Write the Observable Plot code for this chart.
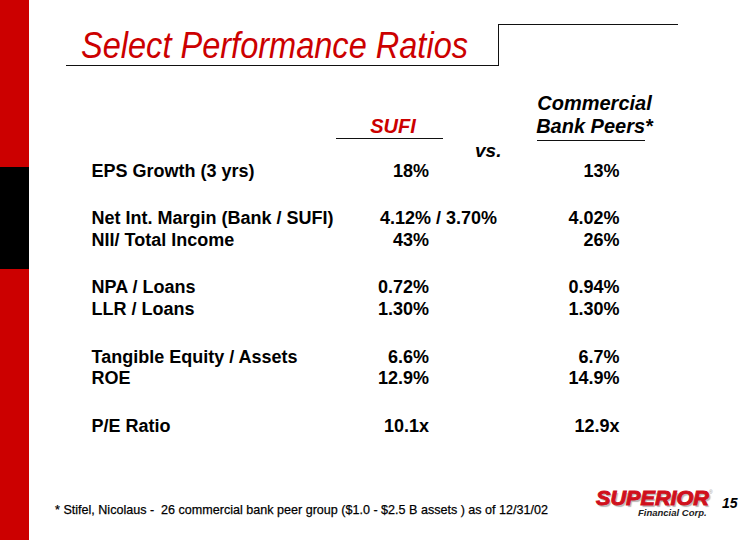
<!DOCTYPE html>
<html><head><meta charset="utf-8">
<script src="https://cdn.jsdelivr.net/npm/d3@7"></script>
<script src="https://cdn.jsdelivr.net/npm/@observablehq/plot@0.6"></script>
<style>
html,body{margin:0;padding:0;background:#fff;}
#page{position:relative;width:756px;height:540px;overflow:hidden;background:#fff;font-family:"Liberation Sans",Arial,sans-serif;}
.abs{position:absolute;white-space:pre;line-height:1;}
#bar{left:0;top:0;width:29px;height:540px;background:#cc0000;}
#band{left:0;top:167px;width:29px;height:102px;background:#000;}
#title{left:81px;top:28px;font-style:italic;font-size:36px;color:#cc0000;}
.hl{position:absolute;height:0;border-top:1.3px solid #111;}
.vl{position:absolute;width:0;border-left:1.3px solid #111;}
#vs{left:475px;top:141px;font-style:italic;font-weight:bold;font-size:19px;color:#000;}
#foot{left:55px;top:502.5px;font-size:13.5px;color:#000;-webkit-text-stroke:0.25px #000;}
#logo{left:596px;top:490px;line-height:0.8;font-style:italic;font-weight:bold;font-size:21px;color:#d0101c;text-shadow:1.5px 1.5px 1px #b8b8b8;-webkit-text-stroke:1px #d0101c;}
#reg{left:709px;top:490px;font-size:5px;color:#999;}
#corp{left:638px;top:507.5px;font-style:italic;font-weight:bold;font-size:9.5px;color:#222;}
#pnum{left:722px;top:496px;font-style:italic;font-weight:bold;font-size:14px;color:#000;}
#chart{position:absolute;left:0;top:0;}
</style></head>
<body>
<div id="page">
  <div id="bar" class="abs"></div>
  <div id="band" class="abs"></div>
  <div id="title" class="abs"></div>
  <div class="hl" style="left:66px;top:65px;width:432px;"></div>
  <div class="vl" style="left:498px;top:24px;height:42px;"></div>
  <div class="hl" style="left:498px;top:24px;width:180px;"></div>
  <div class="hl" style="left:336px;top:138px;width:107px;"></div>
  <div class="hl" style="left:537px;top:140px;width:108px;"></div>
  <div id="vs" class="abs">vs.</div>
  <div id="foot" class="abs"></div>
  <div id="logo" class="abs">SUPERIOR</div>
  <div id="reg" class="abs">®</div>
  <div id="corp" class="abs">Financial Corp.</div>
  <div id="pnum" class="abs"></div>
  <div id="chart"></div>
</div>
<script>
// ---- data ----
const title = "Select Performance Ratios";
const columns = ["Metric", "SUFI", "Commercial Bank Peers*"];
const headerLabels = ["", "SUFI", "Commercial\nBank Peers*"];
const metrics = [
  "EPS Growth (3 yrs)",
  "Net Int. Margin (Bank / SUFI)",
  "NII/ Total Income",
  "NPA / Loans",
  "LLR / Loans",
  "Tangible Equity / Assets",
  "ROE",
  "P/E Ratio"
];
const groups = [0, 1, 1, 2, 2, 3, 3, 4];
const sufiValues = ["18%", "4.12% / 3.70%", "43%", "0.72%", "1.30%", "6.6%", "12.9%", "10.1x"];
const peerValues = ["13%", "4.02%", "26%", "0.94%", "1.30%", "6.7%", "14.9%", "12.9x"];
const footnote = "* Stifel, Nicolaus -  26 commercial bank peer group ($1.0 - $2.5 B assets ) as of 12/31/02";
const pageNumber = "15";

// ---- layout ----
const GROUP_GAP = 1.2;      // extra row-heights between groups
const HEADER_ROW = -1.75;   // header baseline, in row units

const rows = metrics.map((m, i) => ({
  metric: m, sufi: sufiValues[i], peers: peerValues[i],
  slot: i + GROUP_GAP * groups[i]
}));
const headers = columns.map((c, i) => ({col: c, label: headerLabels[i], slot: HEADER_ROW})).filter(d => d.label);
const lastSlot = d3.max(rows, d => d.slot);

const chart = Plot.plot({
  width: 756, height: 540, margin: 0,
  style: {background: "transparent", fontFamily: "'Liberation Sans', Arial, sans-serif"},
  x: {type: "point", domain: columns, range: [90, 619], padding: 0, axis: null},
  y: {type: "linear", domain: [0, lastSlot], range: [170.5, 170.5 + 21.6 * lastSlot], axis: null},
  marks: [
    Plot.text(rows, {x: () => columns[0], y: "slot", text: "metric", textAnchor: "start",
      fontSize: 18, fontWeight: "bold", fill: "#000"}),
    Plot.text(rows.filter(d => !d.sufi.includes("/")), {x: () => columns[1], y: "slot", text: "sufi",
      textAnchor: "end", dx: 73.5, fontSize: 18, fontWeight: "bold", fill: "#000"}),
    Plot.text(rows.filter(d => d.sufi.includes("/")), {x: () => columns[1], y: "slot", text: "sufi",
      textAnchor: "start", dx: 24.5, fontSize: 18, fontWeight: "bold", fill: "#000"}),
    Plot.text(rows, {x: () => columns[2], y: "slot", text: "peers", textAnchor: "end",
      fontSize: 18, fontWeight: "bold", fill: "#000"}),
    Plot.text(headers.filter(d => d.col === "SUFI"), {x: "col", y: "slot", text: "label", lineAnchor: "bottom",
      dx: 37.5, fontSize: 20, fontWeight: "bold", fontStyle: "italic", fill: "#cc0000"}),
    Plot.text(headers.filter(d => d.col !== "SUFI"), {x: "col", y: "slot", text: "label", lineAnchor: "bottom",
      dx: -25, lineHeight: 1.15, fontSize: 20, fontWeight: "bold", fontStyle: "italic", fill: "#000"})
  ]
});
document.getElementById("chart").appendChild(chart);

document.getElementById("title").textContent = title;
document.getElementById("foot").textContent = footnote;
document.getElementById("pnum").textContent = pageNumber;

function fit(id, w) {
  const el = document.getElementById(id);
  const r = el.getBoundingClientRect().width;
  el.style.transformOrigin = "0 0";
  el.style.transform = `scaleX(${w / r})`;
}
fit("title", 387);
fit("foot", 493);
fit("logo", 113);
</script>
</body></html>
